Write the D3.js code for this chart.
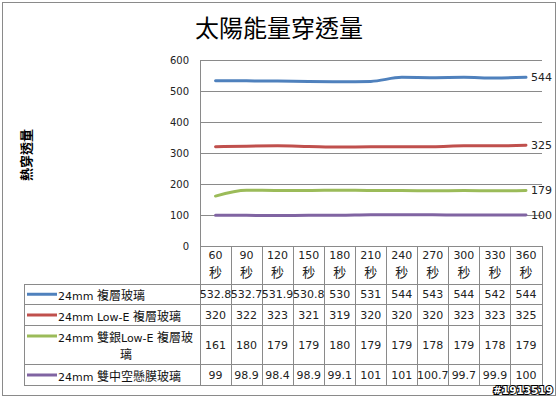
<!DOCTYPE html>
<html><head><meta charset="utf-8">
<script src="https://cdn.jsdelivr.net/npm/d3@7/dist/d3.min.js"></script>
<style>
html,body{margin:0;padding:0;background:#fff;}
svg{display:block;}
</style></head>
<body>
<script>
const categories = ["60","90","120","150","180","210","240","270","300","330","360"];
const catUnit = "秒";
const seriesNames = ["24mm 複層玻璃","24mm Low-E 複層玻璃","24mm 雙銀Low-E 複層玻璃","24mm  雙中空懸膜玻璃"];
const seriesLines = [["24mm 複層玻璃"],["24mm Low-E 複層玻璃"],["24mm 雙銀Low-E 複層玻","璃"],["24mm  雙中空懸膜玻璃"]];
const s1 = [532.8,532.7,531.9,530.8,530,531,544,543,544,542,544];
const s2 = [320,322,323,321,319,320,320,320,323,323,325];
const s3 = [161,180,179,179,180,179,179,178,179,178,179];
const s4 = [99,98.9,98.4,98.9,99.1,101,101,100.7,99.7,99.9,100];
const s1Text = ["532.8","532.7","531.9","530.8","530","531","544","543","544","542","544"];
const s2Text = s2.map(String);
const s3Text = s3.map(String);
const s4Text = ["99","98.9","98.4","98.9","99.1","101","101","100.7","99.7","99.9","100"];
const yTicks = [0,100,200,300,400,500,600];
const colors = ["#4F81BD","#C0504D","#9BBB59","#8064A2"];
const title = "太陽能量穿透量";
const yTitle = "熱穿透量";
const watermark = "#1913519";

const series = [s1,s2,s3,s4];
const seriesText = [s1Text,s2Text,s3Text,s4Text];

const W = 559, H = 399;
const svg = d3.select("body").append("svg").attr("width",W).attr("height",H);
const gridCol = "#8a8a8a";
const latinFont = "'DejaVu Sans', Verdana, sans-serif";
const cjkFont = "'Noto Sans CJK TC', 'Noto Sans CJK SC', sans-serif";

function mixed(textSel, str, latinSize, cjkSize){
  const runs = [];
  const re = /[\u3000-\u9fff\uff00-\uffef]+|[^\u3000-\u9fff\uff00-\uffef]+/g;
  let m; while((m = re.exec(str))) runs.push(m[0]);
  runs.forEach(r=>{
    const isC = /[\u3000-\u9fff]/.test(r);
    textSel.append("tspan").text(r)
      .style("font-family", isC ? cjkFont : latinFont)
      .style("font-size", (isC?cjkSize:latinSize)+"px");
  });
}

svg.append("rect").attr("x",2.5).attr("y",2.5).attr("width",553).attr("height",393)
  .attr("fill","#fff").attr("stroke","#8a8a8a").attr("stroke-width",1);

svg.append("text").attr("x",279).attr("y",37).attr("text-anchor","middle")
  .style("font-family",cjkFont).style("font-size","24px").style("font-weight","400")
  .attr("fill","#000").text(title);

const x = d3.scaleBand().domain(categories).range([200,541.5]).padding(0);
const y = d3.scaleLinear().domain([0,600]).range([246,60]);

svg.append("text").attr("transform","translate(31,155) rotate(-90)")
  .attr("text-anchor","middle").style("font-family",cjkFont).style("font-size","13px")
  .style("font-weight","700").attr("fill","#000").text(yTitle);

svg.append("g").selectAll("line").data(yTicks.filter(d=>d>0)).join("line")
  .attr("x1",200).attr("x2",542).attr("y1",d=>Math.round(y(d))+0.5).attr("y2",d=>Math.round(y(d))+0.5)
  .attr("stroke",gridCol).attr("stroke-width",1);

const yAxis = d3.axisLeft(y).tickValues(yTicks).tickSize(0).tickPadding(11);
const gy = svg.append("g").attr("transform","translate(200,0)").call(yAxis);
gy.select(".domain").remove();
gy.selectAll("text").style("font-family",latinFont).style("font-size","10px").attr("fill","#222");

const tTop = 246;
const rowB = [284,304.5,325.5,364.5,385.5];
const tl = svg.append("g").attr("stroke",gridCol).attr("stroke-width",1).attr("shape-rendering","crispEdges");
tl.append("line").attr("x1",200.5).attr("x2",200.5).attr("y1",60).attr("y2",rowB[4]);
categories.forEach(c=>{
  const xr = x(c)+x.bandwidth();
  tl.append("line").attr("x1",Math.round(xr)+0.5).attr("x2",Math.round(xr)+0.5).attr("y1",tTop).attr("y2",rowB[4]);
});
tl.append("line").attr("x1",200).attr("x2",542).attr("y1",tTop+0.5).attr("y2",tTop+0.5);
rowB.forEach(yy=>{
  tl.append("line").attr("x1",24).attr("x2",542).attr("y1",Math.floor(yy)+0.5).attr("y2",Math.floor(yy)+0.5);
});
tl.append("line").attr("x1",24.5).attr("x2",24.5).attr("y1",rowB[0]).attr("y2",rowB[4]);

const cg = svg.append("g");
categories.forEach(c=>{
  const cx = x(c)+x.bandwidth()/2;
  cg.append("text").attr("x",cx).attr("y",259).attr("text-anchor","middle")
    .style("font-family",latinFont).style("font-size","11px").attr("fill","#222").text(c);
  cg.append("text").attr("x",cx).attr("y",277).attr("text-anchor","middle")
    .style("font-family",cjkFont).style("font-size","13px").attr("fill","#222").text(catUnit);
});

const line = d3.line().x((d,i)=>x(categories[i])+x.bandwidth()/2).y(d=>y(d)).curve(d3.curveMonotoneX);
series.forEach((s,k)=>{
  svg.append("path").datum(s).attr("d",line).attr("fill","none")
    .attr("stroke",colors[k]).attr("stroke-width",3).attr("stroke-linecap","round");
  const last = s.length-1;
  svg.append("text").attr("x",x(categories[last])+x.bandwidth()/2+5).attr("y",y(s[last]))
    .attr("dy","0.35em").style("font-family",latinFont).style("font-size","11px").attr("fill","#222")
    .text(seriesText[k][last]);
});

series.forEach((s,k)=>{
  const top = rowB[k], bot = rowB[k+1];
  const mid = (top+bot)/2;
  const lines = seriesLines[k];
  const ly = lines.length>1 ? top+10.5 : mid;
  svg.append("line").attr("x1",27).attr("x2",57).attr("y1",ly).attr("y2",ly)
    .attr("stroke",colors[k]).attr("stroke-width",3);
  lines.forEach((ln,j)=>{
    const t = svg.append("text").attr("y",ly+j*17.5).attr("dy","0.36em").attr("fill","#111");
    if(j===0){ t.attr("x",58); } else { t.attr("x",126).attr("text-anchor","middle"); }
    mixed(t, ln, 11, 12);
  });
  seriesText[k].forEach((v,i)=>{
    svg.append("text").attr("x",x(categories[i])+x.bandwidth()/2).attr("y",mid).attr("dy","0.36em")
      .attr("text-anchor","middle").style("font-family",latinFont).style("font-size","11px")
      .attr("fill","#222").text(v);
  });
});

svg.append("text").attr("x",553).attr("y",394).attr("text-anchor","end")
  .style("font-family",latinFont).style("font-size","10.5px").style("font-weight","700")
  .attr("fill","#fff").attr("stroke","#000").attr("stroke-width",2).attr("paint-order","stroke")
  .text(watermark);
</script>
</body></html>
